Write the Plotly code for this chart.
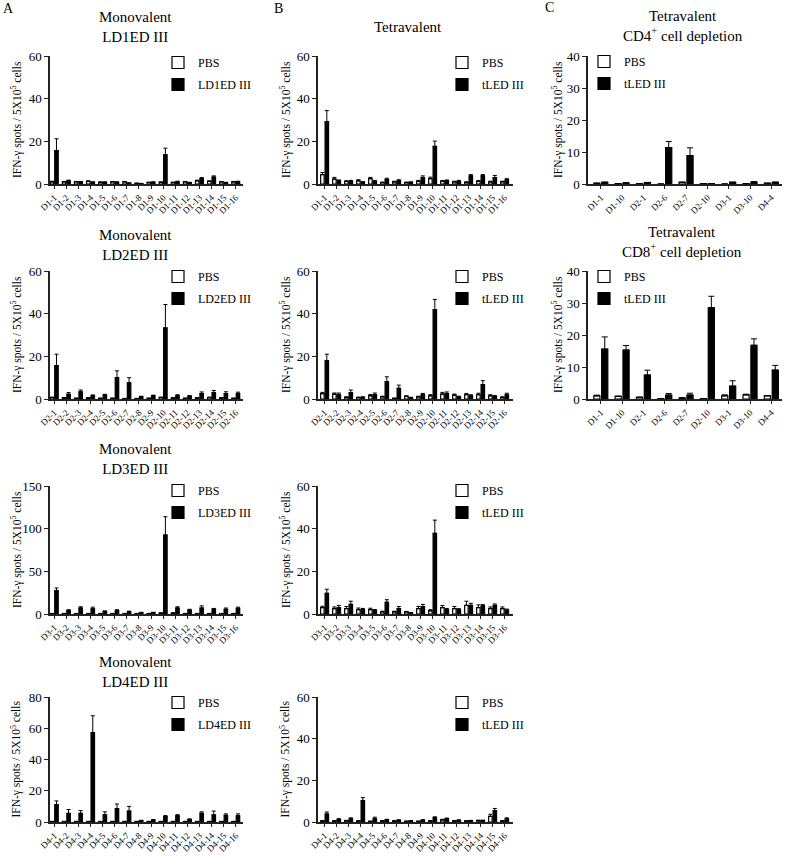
import plotly.graph_objects as go

W, H = 787, 856
FONT = "Liberation Serif"

# ---------------- data ----------------
cats_D1 = ["D1-1", "D1-2", "D1-3", "D1-4", "D1-5", "D1-6", "D1-7", "D1-8", "D1-9", "D1-10", "D1-11", "D1-12", "D1-13", "D1-14", "D1-15", "D1-16"]
cats_D2 = ["D2-1", "D2-2", "D2-3", "D2-4", "D2-5", "D2-6", "D2-7", "D2-8", "D2-9", "D2-10", "D2-11", "D2-12", "D2-13", "D2-14", "D2-15", "D2-16"]
cats_D3 = ["D3-1", "D3-2", "D3-3", "D3-4", "D3-5", "D3-6", "D3-7", "D3-8", "D3-9", "D3-10", "D3-11", "D3-12", "D3-13", "D3-14", "D3-15", "D3-16"]
cats_D4 = ["D4-1", "D4-2", "D4-3", "D4-4", "D4-5", "D4-6", "D4-7", "D4-8", "D4-9", "D4-10", "D4-11", "D4-12", "D4-13", "D4-14", "D4-15", "D4-16"]
cats_C = ["D1-1", "D1-10", "D2-1", "D2-6", "D2-7", "D2-10", "D3-1", "D3-10", "D4-4"]

# Panel A, monovalent
a1_pbs = [1.0, 1.0, 1.0, 1.2, 0.8, 1.0, 1.0, 0.3, 0.7, 0.8, 0.7, 1.0, 1.5, 1.2, 1.0, 1.0]
a1_pbs_err = [0.3, 0.2, 0.2, 0.3, 0.2, 0.2, 0.2, 0.1, 0.2, 0.2, 0.2, 0.2, 0.3, 0.3, 0.2, 0.2]
a1_ag = [15.6, 1.5, 1.0, 0.8, 0.8, 0.8, 0.4, 0.2, 0.8, 13.7, 1.0, 0.6, 2.5, 3.2, 0.6, 1.0]
a1_ag_err = [5.6, 0.3, 0.2, 0.2, 0.2, 0.2, 0.1, 0.1, 0.2, 3.1, 0.3, 0.2, 0.5, 0.6, 0.2, 0.3]

a2_pbs = [0.7, 0.5, 0.3, 0.5, 0.3, 0.3, 0.2, 0.2, 0.3, 0.7, 0.5, 0.3, 0.5, 0.7, 0.5, 0.3]
a2_pbs_err = [0.2, 0.1, 0.1, 0.1, 0.1, 0.1, 0.1, 0.1, 0.1, 0.2, 0.1, 0.1, 0.1, 0.2, 0.1, 0.1]
a2_ag = [15.6, 2.2, 3.3, 1.5, 1.8, 10.0, 7.6, 1.0, 1.5, 33.3, 1.5, 1.3, 2.5, 3.0, 2.5, 2.5]
a2_ag_err = [5.4, 0.8, 0.9, 0.4, 0.4, 3.2, 2.4, 0.3, 0.3, 11.0, 0.5, 0.3, 0.8, 1.0, 0.9, 0.7]

a3_pbs = [0.5, 0.5, 0.5, 0.5, 0.5, 0.5, 0.5, 0.5, 0.5, 1.0, 1.0, 0.5, 0.5, 0.5, 0.5, 0.5]
a3_pbs_err = [0.2, 0.2, 0.2, 0.2, 0.2, 0.2, 0.2, 0.2, 0.2, 0.3, 0.3, 0.2, 0.2, 0.2, 0.2, 0.2]
a3_ag = [27.3, 4.0, 7.0, 6.0, 3.0, 4.0, 2.5, 1.5, 1.5, 92.6, 7.0, 4.5, 7.0, 5.5, 5.5, 6.5]
a3_ag_err = [3.2, 1.0, 1.5, 2.0, 0.5, 1.0, 0.8, 0.5, 0.5, 21.4, 1.5, 1.0, 2.5, 1.0, 1.5, 1.5]

a4_pbs = [0.3, 0.3, 0.3, 0.3, 0.3, 0.3, 0.3, 0.3, 0.3, 0.3, 0.3, 0.3, 0.3, 0.3, 0.3, 0.3]
a4_pbs_err = [0.1, 0.1, 0.1, 0.1, 0.1, 0.1, 0.1, 0.1, 0.1, 0.1, 0.1, 0.1, 0.1, 0.1, 0.1, 0.1]
a4_ag = [11.2, 5.5, 5.5, 57.2, 4.5, 8.5, 7.0, 0.8, 1.2, 3.5, 4.0, 1.5, 5.5, 4.5, 4.2, 4.0]
a4_ag_err = [2.3, 2.5, 1.8, 10.8, 2.0, 3.0, 3.0, 0.3, 0.3, 0.6, 0.7, 0.5, 1.0, 2.5, 1.0, 1.2]

# Panel B, tetravalent
b1_pbs = [4.4, 2.3, 1.2, 1.5, 2.5, 0.7, 1.0, 0.7, 1.3, 2.5, 1.3, 1.0, 0.8, 1.3, 1.0, 1.0]
b1_pbs_err = [1.0, 0.8, 0.3, 0.5, 0.6, 0.2, 0.3, 0.2, 0.4, 0.7, 0.3, 0.3, 0.2, 0.3, 0.3, 0.3]
b1_ag = [29.3, 1.5, 1.3, 0.8, 1.2, 2.2, 1.5, 0.8, 3.0, 17.6, 1.5, 1.3, 3.8, 3.8, 3.0, 2.0]
b1_ag_err = [5.1, 0.4, 0.4, 0.3, 0.5, 0.5, 0.5, 0.2, 0.8, 2.5, 0.4, 0.4, 0.6, 0.6, 1.0, 0.5]

b2_pbs = [2.5, 2.3, 0.8, 0.7, 1.5, 1.0, 0.3, 1.2, 1.0, 1.5, 2.3, 1.8, 2.0, 2.0, 1.5, 0.8]
b2_pbs_err = [0.6, 0.5, 0.2, 0.2, 0.6, 0.3, 0.1, 0.3, 0.3, 0.5, 0.8, 0.5, 0.6, 0.7, 0.5, 0.2]
b2_ag = [17.9, 2.0, 3.0, 0.8, 2.0, 8.1, 5.0, 0.6, 2.0, 41.9, 2.5, 1.0, 1.5, 6.8, 1.2, 2.0]
b2_ag_err = [3.1, 0.8, 1.2, 0.2, 0.8, 2.3, 1.5, 0.2, 0.6, 4.8, 0.8, 0.3, 0.5, 1.8, 0.4, 0.7]

b3_pbs = [3.0, 2.5, 2.5, 2.0, 2.0, 1.0, 1.0, 1.0, 2.5, 1.5, 3.0, 2.5, 4.0, 3.0, 2.5, 2.5]
b3_pbs_err = [0.6, 0.8, 1.0, 0.8, 0.7, 0.3, 0.3, 0.2, 1.0, 0.5, 1.0, 1.0, 2.0, 1.3, 0.8, 0.8]
b3_ag = [9.7, 3.0, 4.5, 2.0, 1.5, 5.5, 2.5, 0.5, 3.5, 37.8, 2.0, 2.0, 4.0, 3.8, 4.0, 1.8]
b3_ag_err = [1.9, 1.0, 1.5, 0.6, 0.6, 1.2, 1.0, 0.2, 1.0, 6.2, 0.6, 0.5, 1.0, 0.6, 0.7, 0.5]

b4_pbs = [0.5, 0.5, 0.6, 0.5, 0.3, 0.5, 0.5, 0.3, 0.3, 0.5, 1.0, 0.5, 0.5, 0.7, 2.7, 0.5]
b4_pbs_err = [0.1, 0.1, 0.2, 0.1, 0.1, 0.1, 0.1, 0.1, 0.1, 0.1, 0.3, 0.1, 0.1, 0.2, 1.0, 0.1]
b4_ag = [3.8, 1.2, 1.5, 10.3, 1.5, 1.0, 0.8, 0.5, 0.8, 2.0, 1.5, 0.8, 0.6, 0.7, 5.5, 1.5]
b4_ag_err = [1.0, 0.4, 0.5, 1.4, 0.8, 0.3, 0.3, 0.2, 0.3, 0.5, 0.4, 0.2, 0.2, 0.2, 1.0, 0.5]

# Panel C, tetravalent with depletion
c1_pbs = [0.2, 0.1, 0.1, 0.0, 0.5, 0.1, 0.0, 0.1, 0.2]
c1_pbs_err = [0.1, 0.05, 0.05, 0.0, 0.1, 0.05, 0.0, 0.05, 0.1]
c1_ag = [0.5, 0.3, 0.4, 11.4, 8.9, 0.1, 0.5, 0.6, 0.5]
c1_ag_err = [0.1, 0.1, 0.1, 1.9, 2.4, 0.05, 0.1, 0.1, 0.1]

c2_pbs = [1.0, 0.8, 0.5, 0.1, 0.3, 0.1, 1.0, 1.3, 1.0]
c2_pbs_err = [0.2, 0.1, 0.1, 0.05, 0.1, 0.05, 0.3, 0.2, 0.1]
c2_ag = [15.6, 15.3, 7.5, 1.2, 1.2, 28.5, 4.0, 16.8, 9.0]
c2_ag_err = [3.8, 1.4, 1.5, 0.5, 0.6, 3.6, 1.7, 2.0, 1.5]

# ---------------- layout helpers ----------------
def fx(px):
    return px / W


def fy(py):
    return 1 - py / H


COL_X = {"A": (50, 243), "B": (318, 513), "C": (588, 782)}
ROW_Y = {1: (56, 184), 2: (271, 399), 3: (486, 614), 4: (697, 822)}

panels = [
    ("A", 1, cats_D1, a1_pbs, a1_pbs_err, a1_ag, a1_ag_err, "LD1ED III", 60, 20, [-0.35, 15.6],
     "Monovalent<br>LD1ED III", 135, 27, (177, 62)),
    ("B", 1, cats_D1, b1_pbs, b1_pbs_err, b1_ag, b1_ag_err, "tLED III", 60, 20, [-0.55, 15.7],
     "Tetravalent", 408, 27, (461, 62)),
    ("C", 1, cats_C, c1_pbs, c1_pbs_err, c1_ag, c1_ag_err, "tLED III", 40, 10, [-0.6, 8.5],
     "Tetravalent<br>CD4<sup>+</sup> cell depletion", 683, 26, (603, 61)),
    ("A", 2, cats_D2, a2_pbs, a2_pbs_err, a2_ag, a2_ag_err, "LD2ED III", 60, 20, [-0.35, 15.6],
     "Monovalent<br>LD2ED III", 135, 245, (177, 276)),
    ("B", 2, cats_D2, b2_pbs, b2_pbs_err, b2_ag, b2_ag_err, "tLED III", 60, 20, [-0.55, 15.7],
     None, 0, 0, (461, 276)),
    ("C", 2, cats_C, c2_pbs, c2_pbs_err, c2_ag, c2_ag_err, "tLED III", 40, 10, [-0.6, 8.5],
     "Tetravalent<br>CD8<sup>+</sup> cell depletion", 682, 242, (603, 276)),
    ("A", 3, cats_D3, a3_pbs, a3_pbs_err, a3_ag, a3_ag_err, "LD3ED III", 150, 50, [-0.35, 15.6],
     "Monovalent<br>LD3ED III", 135, 459, (177, 490)),
    ("B", 3, cats_D3, b3_pbs, b3_pbs_err, b3_ag, b3_ag_err, "tLED III", 60, 20, [-0.55, 15.7],
     None, 0, 0, (461, 490)),
    ("A", 4, cats_D4, a4_pbs, a4_pbs_err, a4_ag, a4_ag_err, "LD4ED III", 80, 20, [-0.35, 15.6],
     "Monovalent<br>LD4ED III", 135, 672, (177, 702)),
    ("B", 4, cats_D4, b4_pbs, b4_pbs_err, b4_ag, b4_ag_err, "tLED III", 60, 20, [-0.55, 15.7],
     None, 0, 0, (461, 702)),
]

fig = go.Figure()
layout = dict(
    width=W, height=H, autosize=False,
    margin=dict(l=0, r=0, t=0, b=0, pad=0, autoexpand=False),
    paper_bgcolor="white", plot_bgcolor="white",
    font=dict(family=FONT, color="black", size=12),
    barmode="group", bargap=0.26, bargroupgap=0.22,
    annotations=[],
)

YT_X = {"A": 16, "B": 285, "C": 557}

for i, (col, row, cats, pbs, pbs_err, ag, ag_err, ag_name, ymax, dtick, xr,
        title, tx, ty, (lx, ly)) in enumerate(panels, start=1):
    suffix = "" if i == 1 else str(i)
    xa, ya = "x" + suffix, "y" + suffix
    leg = "legend" + suffix
    cap = 3 if col == "C" else 2
    fig.add_trace(go.Bar(
        x=cats, y=pbs, name="PBS", xaxis=xa, yaxis=ya, legend=leg, legendgroup="p" + suffix,
        marker=dict(color="white", line=dict(color="black", width=1.2)),
        error_y=dict(type="data", array=pbs_err, arrayminus=[0] * len(pbs_err), symmetric=False,
                     color="black", thickness=1, width=cap),
    ))
    fig.add_trace(go.Bar(
        x=cats, y=ag, name=ag_name, xaxis=xa, yaxis=ya, legend=leg, legendgroup="a" + suffix,
        marker=dict(color="black", line=dict(color="black", width=1.2)),
        error_y=dict(type="data", array=ag_err, arrayminus=[0] * len(ag_err), symmetric=False,
                     color="black", thickness=1, width=cap),
    ))
    x0, x1 = COL_X[col]
    y0, y1 = ROW_Y[row]
    layout["xaxis" + suffix] = dict(
        domain=[fx(x0), fx(x1)], anchor=ya, type="category", range=xr,
        tickmode="linear", tick0=0, dtick=1,
        showline=True, linecolor="#222", linewidth=1.5, showgrid=False, zeroline=False,
        ticks="outside", ticklen=3, tickwidth=1, tickcolor="#222",
        tickangle=-45, tickfont=dict(family=FONT, size=9, color="black"),
        ticklabeloverflow="allow",
    )
    layout["yaxis" + suffix] = dict(
        domain=[fy(y1), fy(y0)], anchor=xa, range=[0, ymax], dtick=dtick, tick0=0,
        showline=True, linecolor="#222", linewidth=1.5, showgrid=False, zeroline=False,
        ticks="outside", ticklen=4, tickwidth=1.2, tickcolor="#222",
        tickfont=dict(family=FONT, size=13, color="black"),
    )
    layout[leg] = dict(
        x=fx(lx - 19), y=fy(ly - 14), xanchor="left", yanchor="top",
        bgcolor="rgba(0,0,0,0)", borderwidth=0, tracegroupgap=3,
        font=dict(family=FONT, size=12, color="black"),
    )
    layout["annotations"].append(dict(
        text="IFN-γ spots / 5X10<sup>5</sup> cells", textangle=-90,
        x=fx(YT_X[col]), y=fy((y0 + y1) / 2), xref="paper", yref="paper",
        xanchor="center", yanchor="middle", showarrow=False,
        font=dict(family=FONT, size=11.5, color="black"),
    ))
    if title:
        layout["annotations"].append(dict(
            text=title, x=fx(tx), y=fy(ty), xref="paper", yref="paper",
            xanchor="center", yanchor="middle", showarrow=False,
            font=dict(family=FONT, size=15, color="black"),
        ))

for letter, px, py in [("A", 8, 8), ("B", 278, 8), ("C", 549, 7)]:
    layout["annotations"].append(dict(
        text=letter, x=fx(px), y=fy(py), xref="paper", yref="paper",
        xanchor="center", yanchor="middle", showarrow=False,
        font=dict(family=FONT, size=14, color="black"),
    ))

fig.update_layout(**layout)
fig.write_html(
    "out.html",
    config={"displayModeBar": False},
    post_script="document.body.style.margin='0';document.body.style.padding='0';",
)
